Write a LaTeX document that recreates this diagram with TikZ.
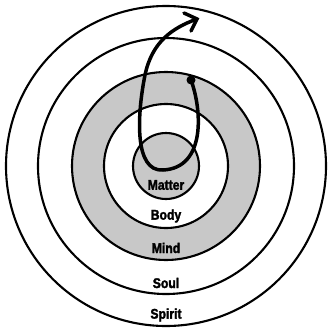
\documentclass[tikz,border=0pt]{standalone}
\usepackage{fontspec}
\setmainfont{Liberation Sans}
\newfontfamily\lblfont[FakeStretch=0.87,FakeBold=2]{Liberation Sans Bold}
\definecolor{ringgray}{HTML}{C8C8C8}
\tikzset{
  ring/.style={draw=black, line width=2.1pt},
  lbl/.style={font=\lblfont\fontsize{14}{16}\selectfont, inner sep=0pt, anchor=center},
  spiral/.style={line width=3.5pt, line cap=round, line join=miter}
}
\begin{document}
\begin{tikzpicture}[x=1pt,y=-1pt]
\useasboundingbox (0,0) rectangle (328,330);
\coordinate (c) at (166,166);
\draw[ring, fill=white] (c) circle (160);
\draw[ring, fill=white] (c) circle (128);
\draw[ring, fill=ringgray] (c) circle (94);
\draw[ring, fill=white] (c) circle (62);
\draw[ring, fill=ringgray] (c) circle (33);
\node[lbl] (matter) at (166,185) {Matter};
\node[lbl] (body) at (166,216) {Body};
\node[lbl] (mind) at (166,248) {Mind};
\node[lbl] (soul) at (166,283) {Soul};
\node[lbl] (spirit) at (166,315) {Spirit};
\coordinate (s) at (191,80);
\coordinate (b) at (163,170);
\coordinate (l) at (145,75);
\coordinate (e) at (197,19);
\coordinate (a1) at (184,13);
\coordinate (a2) at (191,31);
\fill (s) circle (4.5);
\draw[spiral] (s) .. controls (202,110) and (206,168) .. (b) .. controls (134,172) and (137,115) .. (l) .. controls (152,42) and (172,28) .. (e);
\draw[spiral] (a1) -- (e) -- (a2);
\end{tikzpicture}
\end{document}
